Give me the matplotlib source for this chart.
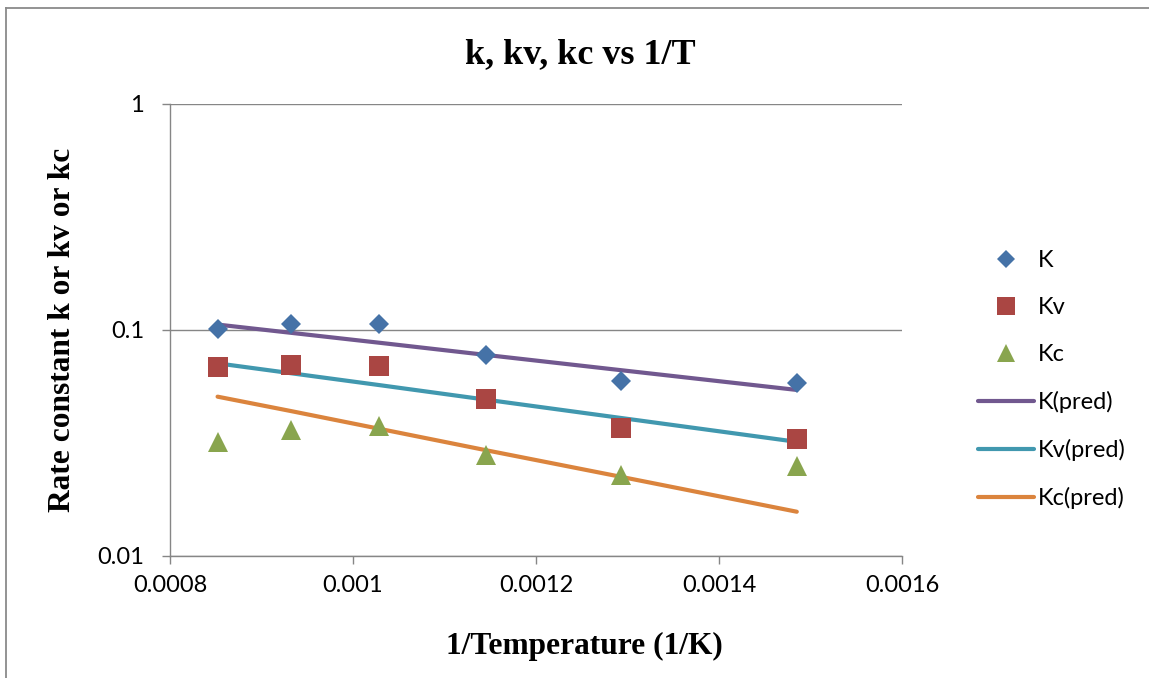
import matplotlib
matplotlib.use("Agg")
import matplotlib.pyplot as plt
from matplotlib.lines import Line2D
from matplotlib.ticker import FixedLocator, FixedFormatter, NullLocator

# Inverse temperature (1/K) for runs at 900, 800, 700, 600, 500 and 400 °C
inv_T = [0.000852, 0.000932, 0.001028, 0.001145, 0.001293, 0.001485]

# Measured rate constants
k_meas = [0.1007, 0.1063, 0.1063, 0.0773, 0.0597, 0.0581]
kv_meas = [0.0684, 0.0700, 0.0691, 0.0493, 0.0370, 0.0329]
kc_meas = [0.0321, 0.0361, 0.0377, 0.0279, 0.0228, 0.0250]

# Arrhenius-fit predictions
k_pred = [0.1057, 0.0972, 0.0879, 0.0776, 0.0664, 0.0543]
kv_pred = [0.0712, 0.0644, 0.0571, 0.0492, 0.0408, 0.0320]
kc_pred = [0.0507, 0.0438, 0.0366, 0.0294, 0.0224, 0.0157]

x_ticks = [0.0008, 0.0010, 0.0012, 0.0014, 0.0016]
x_tick_labels = ["0.0008", "0.001", "0.0012", "0.0014", "0.0016"]
y_ticks = [0.01, 0.1, 1]
y_tick_labels = ["0.01", "0.1", "1"]

W, H = 1149, 678
fig = plt.figure(figsize=(W / 100, H / 100), dpi=100)
fig.patch.set_facecolor("white")

def fx(px):
    return px / W

def fy(py):
    return 1 - py / H

ax = fig.add_axes([fx(170), fy(556), fx(902) - fx(170), fy(104) - fy(556)])

grey = "#868686"
tick_font = dict(family=["Lato", "DejaVu Sans"], size=17)
serif_bold = dict(family=["Liberation Serif", "DejaVu Serif"], weight="bold")

c_k, c_kv, c_kc = "#4572A7", "#AA4643", "#89A54E"
c_kp, c_kvp, c_kcp = "#71588F", "#4198AF", "#DB843D"

lw = 3.0
ax.plot(inv_T, k_pred, color=c_kp, lw=lw, solid_capstyle="round", zorder=3, label="K(pred)")
ax.plot(inv_T, kv_pred, color=c_kvp, lw=lw, solid_capstyle="round", zorder=3, label="Kv(pred)")
ax.plot(inv_T, kc_pred, color=c_kcp, lw=lw, solid_capstyle="round", zorder=3, label="Kc(pred)")

ax.plot(inv_T, k_meas, ls="none", marker="D", ms=10.2, color=c_k, mec=c_k, mew=0, zorder=4, label="K")
ax.plot(inv_T, kv_meas, ls="none", marker="s", ms=14.2, color=c_kv, mec=c_kv, mew=0, zorder=4, label="Kv")
ax.plot(inv_T, kc_meas, ls="none", marker="^", ms=14.4, color=c_kc, mec=c_kc, mew=0, zorder=4, label="Kc")

ax.set_yscale("log")
ax.set_xlim(0.0008, 0.0016)
ax.set_ylim(0.01, 1)

ax.xaxis.set_major_locator(FixedLocator(x_ticks))
ax.xaxis.set_major_formatter(FixedFormatter(x_tick_labels))
ax.yaxis.set_major_locator(FixedLocator(y_ticks))
ax.yaxis.set_major_formatter(FixedFormatter(y_tick_labels))
ax.yaxis.set_minor_locator(NullLocator())
ax.xaxis.set_minor_locator(NullLocator())

ax.grid(axis="y", which="major", color=grey, lw=1.0)
ax.set_axisbelow(True)
for side in ("top", "right"):
    ax.spines[side].set_visible(False)
for side in ("left", "bottom"):
    ax.spines[side].set_color(grey)
    ax.spines[side].set_linewidth(1.0)

ax.tick_params(axis="both", which="major", direction="out", length=5.8, width=1.0,
               color=grey, labelcolor="black")
ax.tick_params(axis="y", pad=13)
ax.tick_params(axis="x", pad=8)
for lab in ax.get_xticklabels() + ax.get_yticklabels():
    lab.set_fontfamily(tick_font["family"])
    lab.set_fontsize(tick_font["size"])

# Title and axis titles
fig.text(fx(580), fy(62.7), "k, kv, kc vs 1/T", ha="center", va="baseline",
         fontsize=26, **serif_bold)
fig.text(fx(584.5), fy(654), "1/Temperature (1/K)", ha="center", va="baseline",
         fontsize=22.6, **serif_bold)
fig.text(fx(70), fy(330), "Rate constant k or kv or kc", ha="center", va="baseline",
         rotation=90, rotation_mode="anchor", fontsize=22.6, **serif_bold)

# Legend: markers first, then fitted lines
handles, labels = ax.get_legend_handles_labels()
order = [3, 4, 5, 0, 1, 2]
leg = fig.legend([handles[i] for i in order], [labels[i] for i in order],
                 loc="center left", bbox_to_anchor=(fx(978), fy(379.5)),
                 frameon=False, borderpad=0, borderaxespad=0,
                 handlelength=2.37, handletextpad=0.17, labelspacing=1.1,
                 numpoints=1, markerscale=0.9,
                 prop=dict(family=["Lato", "DejaVu Sans"], size=17))

# Chart-area border
fig.add_artist(Line2D([fx(6), fx(6)], [fy(8), 0], color="#8a8a8a", lw=1.3))
fig.add_artist(Line2D([fx(6), 1], [fy(8), fy(8)], color="#8a8a8a", lw=1.3))

fig.savefig("out.png", dpi=100, facecolor="white")
